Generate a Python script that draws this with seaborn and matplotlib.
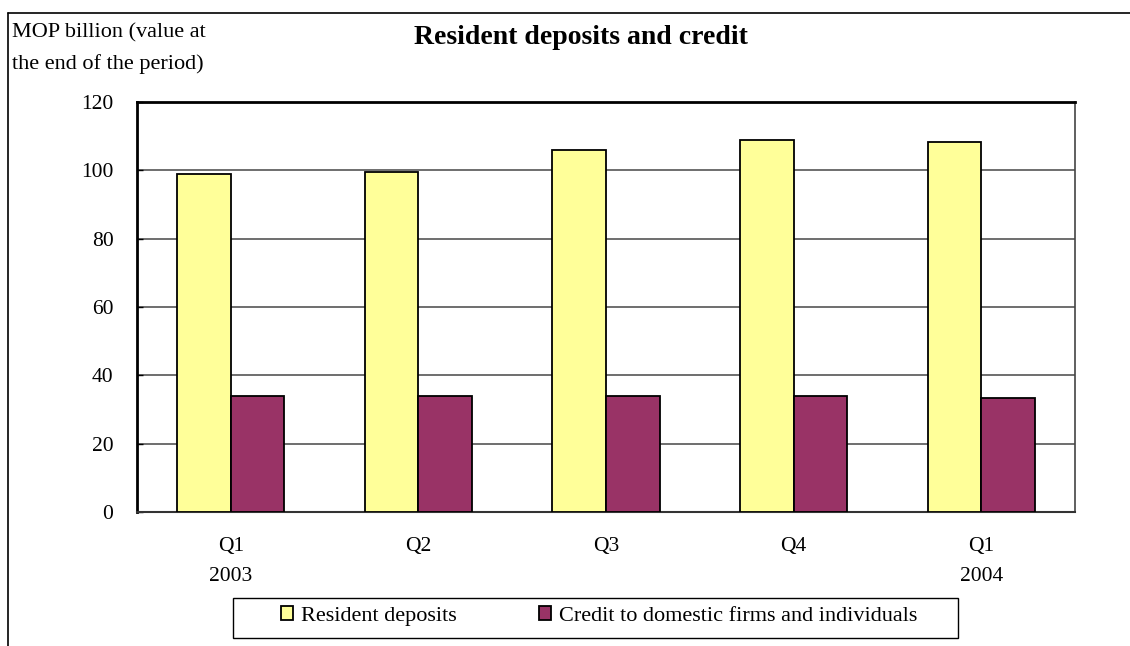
import matplotlib.pyplot as plt
import matplotlib.lines as mlines
import matplotlib.patches as mpatches
import pandas as pd
import seaborn as sns

quarters = ['Q1\n2003', 'Q2', 'Q3', 'Q4', 'Q1\n2004']
series_names = ['Resident deposits', 'Credit to domestic firms and individuals']
resident_deposits = [99.0, 99.5, 105.9, 108.9, 108.3]
credit = [34.0, 34.0, 34.0, 34.0, 33.5]
y_ticks = [0, 20, 40, 60, 80, 100, 120]

df = pd.DataFrame({
    'quarter': quarters * 2,
    'series': [series_names[0]] * len(quarters) + [series_names[1]] * len(quarters),
    'value': resident_deposits + credit,
})

sns.set_theme(style='white')
plt.rcParams['font.family'] = ['Liberation Serif', 'DejaVu Serif']
plt.rcParams.update({'text.color': 'black', 'xtick.color': 'black',
                     'ytick.color': 'black', 'axes.labelcolor': 'black'})

W, H = 1130, 646
fig = plt.figure(figsize=(W / 100, H / 100), dpi=100)
ax = fig.add_axes([137 / W, 1 - 512 / H, 938 / W, 410 / H])

sns.barplot(data=df, x='quarter', y='value', hue='series',
            palette=['#FFFF99', '#993366'], width=0.572,
            edgecolor='black', linewidth=1.3, saturation=1, ax=ax, zorder=3)

ax.set_xlim(-0.5, 4.5)
ax.set_ylim(0, 120)
ax.set_yticks(y_ticks)
ax.set_yticklabels([str(t) for t in y_ticks], fontsize=15.5)
ax.set_xticklabels(quarters, fontsize=15.5, linespacing=1.8)
ax.tick_params(axis='x', length=0, pad=18)
ax.tick_params(axis='y', length=4, width=1, direction='in', pad=17, left=True)
ax.set_xlabel('')
ax.set_ylabel('')
ax.yaxis.grid(True, color='#555555', linewidth=1.2, zorder=0)
ax.set_axisbelow(True)
for side in ['top', 'left']:
    ax.spines[side].set_color('black')
    ax.spines[side].set_linewidth(2)
ax.spines['right'].set_color('#444444')
ax.spines['right'].set_linewidth(1.2)
ax.spines['bottom'].set_color('#333333')
ax.spines['bottom'].set_linewidth(1.5)

# legend box drawn separately so the padding can match the original
fig.add_artist(mpatches.Rectangle((233 / W, 1 - 638 / H), 725 / W, 40 / H,
                                  transform=fig.transFigure, facecolor='white',
                                  edgecolor='black', linewidth=1, zorder=-1))
leg = ax.legend(loc='center', bbox_to_anchor=(599 / W, 1 - 616 / H),
                bbox_transform=fig.transFigure, ncol=2, frameon=False,
                fontsize=16, handlelength=0.55, handleheight=0.6,
                handletextpad=0.35, columnspacing=3.7, borderpad=0)

fig.text(581 / W, 1 - 38 / H, 'Resident deposits and credit', ha='center',
         va='center', fontsize=20, fontweight='bold')
fig.text(12 / W, 1 - 33 / H, 'MOP billion (value at', ha='left',
         va='center', fontsize=16)
fig.text(12 / W, 1 - 64 / H, 'the end of the period)', ha='left',
         va='center', fontsize=16)

# outer chart frame (left and top edges only show)
fig.add_artist(mlines.Line2D([8 / W, 8 / W], [0, 1 - 13 / H],
                             color='black', linewidth=1.2, transform=fig.transFigure))
fig.add_artist(mlines.Line2D([8 / W, 1], [1 - 13 / H, 1 - 13 / H],
                             color='black', linewidth=1.2, transform=fig.transFigure))

fig.savefig('out.png', dpi=100)
